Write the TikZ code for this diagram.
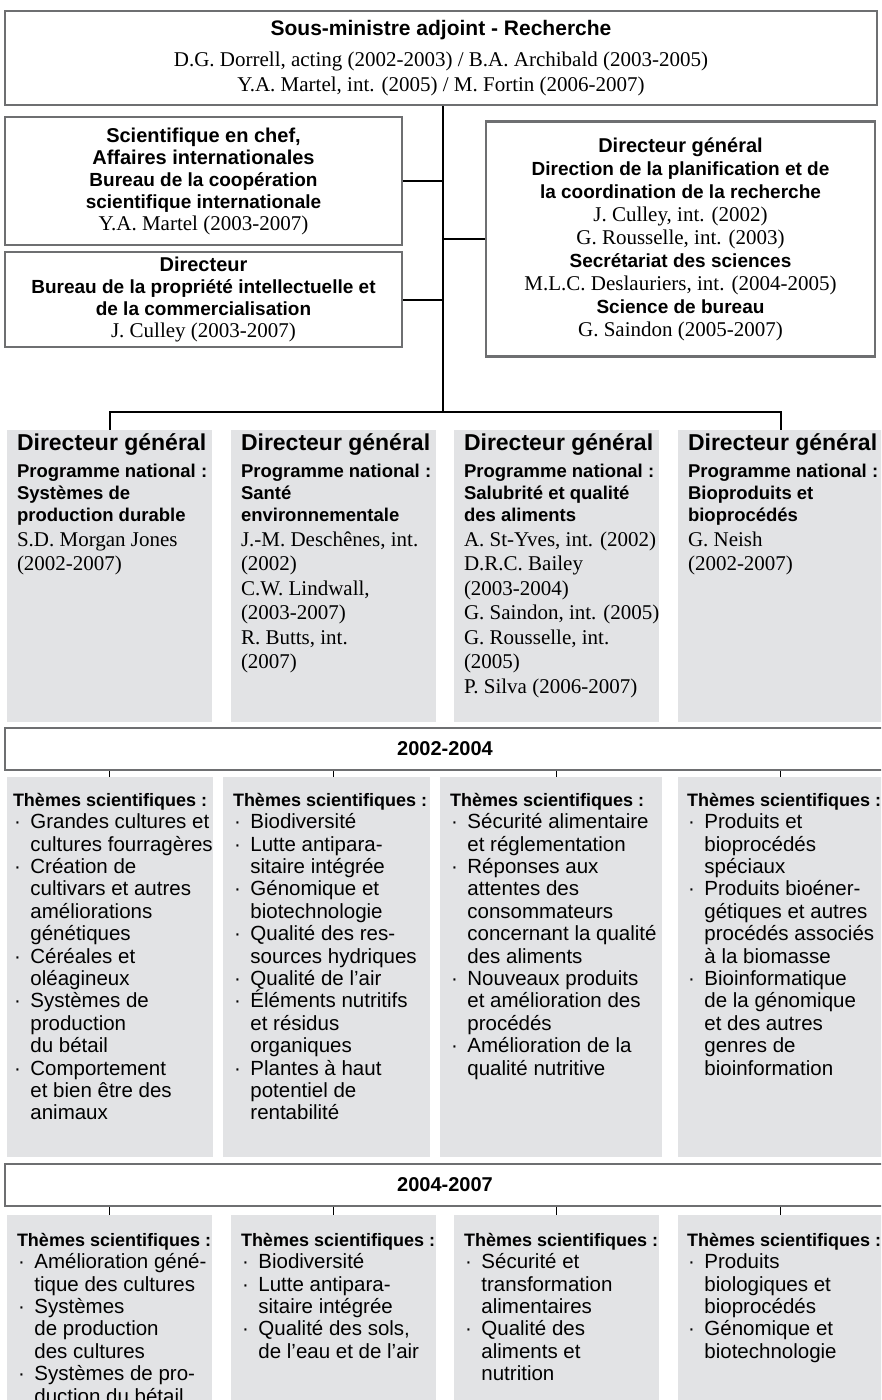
\documentclass[tikz,border=0pt]{standalone}
\usepackage{fontspec}
\setmainfont{Liberation Serif}
\setsansfont{Liberation Sans}
\definecolor{boxgray}{HTML}{6E6F71}
\definecolor{colgray}{HTML}{E2E3E5}
\newcommand{\boxhead}{\sffamily\bfseries\fontsize{20}{22}\selectfont}
\newcommand{\boxsub}{\sffamily\bfseries\fontsize{19}{22}\selectfont}
\newcommand{\dghead}{\sffamily\bfseries\fontsize{23}{24}\selectfont}
\newcommand{\pnfont}{\sffamily\bfseries\fontsize{18.5}{22}\selectfont}
\newcommand{\themehead}{\sffamily\bfseries\fontsize{18}{22}\selectfont}
\newcommand{\puce}{\makebox[0.85em][l]{\hspace{0.05em}·}}
\newcommand{\suite}{\hspace*{0.85em}}
\begin{document}
\setlength{\lineskiplimit}{-10pt}
\begin{tikzpicture}[x=1pt,y=-1pt,
  box/.style={draw=boxgray,line width=2.5pt,fill=white,align=center,inner sep=0pt,font=\fontsize{21}{24}\selectfont},
  col/.style={fill=colgray,inner sep=0pt,minimum width=205pt},
  link/.style={draw=black,line width=2pt},
  tick/.style={draw=black,line width=1.3pt},
  names/.style={anchor=north west,inner sep=0pt,align=left,font=\fontsize{21}{24.5}\selectfont},
  themes/.style={anchor=north west,inner sep=0pt,align=left,font=\sffamily\fontsize{20.5}{22.4}\selectfont}]
\useasboundingbox (0,0) rectangle (881,1400);
\clip (0,0) rectangle (881,1400);

% direction
\node[box,minimum width=872pt,minimum height=94pt,font=\fontsize{21}{25}\selectfont] (sma) at (441,58)
  {{\sffamily\bfseries\fontsize{21}{22}\selectfont Sous-ministre adjoint - Recherche}\\[6pt]
   D.G. Dorrell, acting (2002-2003) / B.A. Archibald (2003-2005)\\
   Y.A. Martel, int. (2005) / M. Fortin (2006-2007)};
\node[box,minimum width=397pt,minimum height=128pt,font=\fontsize{21}{22}\selectfont] (sci) at (203.5,181)
  {{\boxhead Scientifique en chef,}\\{\boxhead Affaires internationales}\\
   {\boxsub Bureau de la coopération}\\{\boxsub scientifique internationale}\\
   Y.A. Martel (2003-2007)};
\node[box,minimum width=397pt,minimum height=95pt,font=\fontsize{21}{22}\selectfont] (dpi) at (203.5,299.5)
  {{\boxhead Directeur}\\{\boxsub Bureau de la propriété intellectuelle et}\\
   {\boxsub de la commercialisation}\\J. Culley (2003-2007)};
\node[box,minimum width=389pt,minimum height=235pt,font=\fontsize{21}{23}\selectfont] (dgp) at (680.5,239)
  {{\boxhead Directeur général}\\
   {\boxsub Direction de la planification et de}\\{\boxsub la coordination de la recherche}\\
   J. Culley, int. (2002)\\G. Rousselle, int. (2003)\\
   {\boxsub Secrétariat des sciences}\\M.L.C. Deslauriers, int. (2004-2005)\\
   {\boxsub Science de bureau}\\G. Saindon (2005-2007)};

% programmes nationaux
\node[col,minimum height=292pt] (dg1) at (109.5,576) {};
\node[col,minimum height=292pt] (dg2) at (333.5,576) {};
\node[col,minimum height=292pt] (dg3) at (556.5,576) {};
\node[col,minimum height=292pt] (dg4) at (780.5,576) {};

\coordinate (fork) at (443,412);
\draw[link] (sma.south -| fork) -- (fork);
\draw[link] (sci.east) -- (sci.east -| fork);
\draw[link] (dpi.east) -- (dpi.east -| fork);
\draw[link] (dgp.west) -- (dgp.west -| fork);
\draw[link] (dg1.north) |- (fork) -| (dg4.north);

\node[names] (dgt1) at ([xshift=10pt,yshift=-4pt]dg1.north west)
  {{\dghead Directeur général}\\[2.5pt]
   {\pnfont Programme national :}\\[-2.5pt]
   {\pnfont Systèmes de}\\[-2.5pt]
   {\pnfont production durable}\\
   S.D. Morgan Jones\\(2002-2007)};
\node[names] (dgt2) at ([xshift=10pt,yshift=-4pt]dg2.north west)
  {{\dghead Directeur général}\\[2.5pt]
   {\pnfont Programme national :}\\[-2.5pt]
   {\pnfont Santé}\\[-2.5pt]
   {\pnfont environnementale}\\
   J.-M. Deschênes, int.\\(2002)\\C.W. Lindwall,\\(2003-2007)\\R. Butts, int.\\(2007)};
\node[names] (dgt3) at ([xshift=10pt,yshift=-4pt]dg3.north west)
  {{\dghead Directeur général}\\[2.5pt]
   {\pnfont Programme national :}\\[-2.5pt]
   {\pnfont Salubrité et qualité}\\[-2.5pt]
   {\pnfont des aliments}\\
   A. St-Yves, int. (2002)\\D.R.C. Bailey\\(2003-2004)\\G. Saindon, int. (2005)\\
   G. Rousselle, int.\\(2005)\\P. Silva (2006-2007)};
\node[names] (dgt4) at ([xshift=10pt,yshift=-4pt]dg4.north west)
  {{\dghead Directeur général}\\[2.5pt]
   {\pnfont Programme national :}\\[-2.5pt]
   {\pnfont Bioproduits et}\\[-2.5pt]
   {\pnfont bioprocédés}\\
   G. Neish\\(2002-2007)};

% 2002-2004
\node[box,minimum width=880pt,minimum height=42pt] (per1) at (445,749) {\boxhead 2002-2004};
\node[col,minimum width=206pt,minimum height=380pt] (th1) at (110,967) {};
\node[col,minimum width=207pt,minimum height=380pt] (th2) at (326.5,967) {};
\node[col,minimum width=222pt,minimum height=380pt] (th3) at (551,967) {};
\node[col,minimum width=207pt,minimum height=380pt] (th4) at (781.5,967) {};
\draw[tick] (dg1.center |- per1.south) -- (dg1.center |- th1.north);
\draw[tick] (dg2.center |- per1.south) -- (dg2.center |- th2.north);
\draw[tick] (dg3.center |- per1.south) -- (dg3.center |- th3.north);
\draw[tick] (dg4.center |- per1.south) -- (dg4.center |- th4.north);

\node[themes] (tht1) at ([xshift=6pt,yshift=-16pt]th1.north west)
  {{\themehead Thèmes scientifiques :}\\
   \puce Grandes cultures et\\\suite cultures fourragères\\
   \puce Création de\\\suite cultivars et autres\\\suite améliorations\\\suite génétiques\\
   \puce Céréales et\\\suite oléagineux\\
   \puce Systèmes de\\\suite production\\\suite du bétail\\
   \puce Comportement\\\suite et bien être des\\\suite animaux};
\node[themes] (tht2) at ([xshift=10pt,yshift=-16pt]th2.north west)
  {{\themehead Thèmes scientifiques :}\\
   \puce Biodiversité\\
   \puce Lutte antipara-\\\suite sitaire intégrée\\
   \puce Génomique et\\\suite biotechnologie\\
   \puce Qualité des res-\\\suite sources hydriques\\
   \puce Qualité de l’air\\
   \puce Éléments nutritifs\\\suite et résidus\\\suite organiques\\
   \puce Plantes à haut\\\suite potentiel de\\\suite rentabilité};
\node[themes] (tht3) at ([xshift=10pt,yshift=-16pt]th3.north west)
  {{\themehead Thèmes scientifiques :}\\
   \puce Sécurité alimentaire\\\suite et réglementation\\
   \puce Réponses aux\\\suite attentes des\\\suite consommateurs\\
   \suite concernant la qualité\\\suite des aliments\\
   \puce Nouveaux produits\\\suite et amélioration des\\\suite procédés\\
   \puce Amélioration de la\\\suite qualité nutritive};
\node[themes] (tht4) at ([xshift=9pt,yshift=-16pt]th4.north west)
  {{\themehead Thèmes scientifiques :}\\
   \puce Produits et\\\suite bioprocédés\\\suite spéciaux\\
   \puce Produits bioéner-\\\suite gétiques et autres\\\suite procédés associés\\
   \suite à la biomasse\\
   \puce Bioinformatique\\\suite de la génomique\\\suite et des autres\\
   \suite genres de\\\suite bioinformation};

% 2004-2007
\node[box,minimum width=880pt,minimum height=42pt] (per2) at (445,1185) {\boxhead 2004-2007};
\node[col,minimum height=205pt] (tm1) at (109.5,1317.5) {};
\node[col,minimum height=205pt] (tm2) at (333.5,1317.5) {};
\node[col,minimum height=205pt] (tm3) at (556.5,1317.5) {};
\node[col,minimum height=205pt] (tm4) at (780.5,1317.5) {};
\draw[tick] (tm1.north |- per2.south) -- (tm1.north);
\draw[tick] (tm2.north |- per2.south) -- (tm2.north);
\draw[tick] (tm3.north |- per2.south) -- (tm3.north);
\draw[tick] (tm4.north |- per2.south) -- (tm4.north);

\node[themes] (tmt1) at ([xshift=10pt,yshift=-18pt]tm1.north west)
  {{\themehead Thèmes scientifiques :}\\
   \puce Amélioration géné-\\\suite tique des cultures\\
   \puce Systèmes\\\suite de production\\\suite des cultures\\
   \puce Systèmes de pro-\\\suite duction du bétail};
\node[themes] (tmt2) at ([xshift=10pt,yshift=-18pt]tm2.north west)
  {{\themehead Thèmes scientifiques :}\\
   \puce Biodiversité\\
   \puce Lutte antipara-\\\suite sitaire intégrée\\
   \puce Qualité des sols,\\\suite de l’eau et de l’air};
\node[themes] (tmt3) at ([xshift=10pt,yshift=-18pt]tm3.north west)
  {{\themehead Thèmes scientifiques :}\\
   \puce Sécurité et\\\suite transformation\\\suite alimentaires\\
   \puce Qualité des\\\suite aliments et\\\suite nutrition};
\node[themes] (tmt4) at ([xshift=9pt,yshift=-18pt]tm4.north west)
  {{\themehead Thèmes scientifiques :}\\
   \puce Produits\\\suite biologiques et\\\suite bioprocédés\\
   \puce Génomique et\\\suite biotechnologie};
\end{tikzpicture}
\end{document}
